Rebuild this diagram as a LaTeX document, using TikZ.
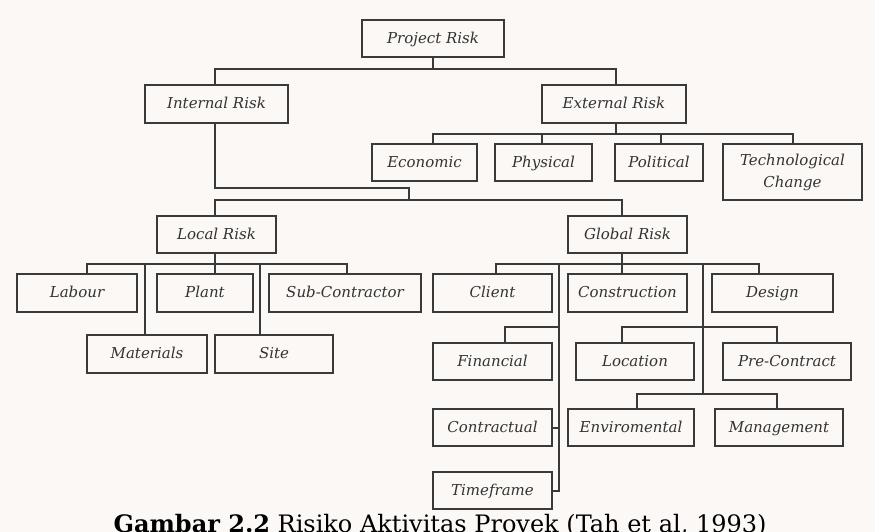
\documentclass[tikz,border=0pt]{standalone}
\usepackage{fontspec}
\setmainfont{DejaVu Serif}
\definecolor{paper}{HTML}{FBF8F5}
\definecolor{ink}{HTML}{3A3A3A}
\definecolor{txt}{HTML}{333333}
\tikzset{
  riskbox/.style={draw=ink, line width=1.3pt, fill=paper, text=txt, inner sep=2pt,
    font=\fontsize{15}{22}\selectfont\itshape, align=center,
    text height=12.5pt, text depth=3pt},
  twoline/.style={text height=, text depth=},
  conn/.style={draw=ink, line width=1.3pt, line cap=rect},
}
\newcommand{\rbox}[6]{% name, cx, cy, width, height, text
  \node[riskbox, minimum width=#4pt, minimum height=#5pt] (#1) at (#2,#3) {#6};}
\begin{document}
\begin{tikzpicture}[x=1pt,y=-1pt]
\useasboundingbox (0,0) rectangle (875,532);
\clip (0,0) rectangle (875,532);
\fill[paper] (0,0) rectangle (875,532);

% top levels
\rbox{pr}{433}{38.5}{142}{37}{Project Risk}
\rbox{ir}{216.5}{104}{143}{38}{Internal Risk}
\rbox{er}{614}{104}{144}{38}{External Risk}

% external risk children
\rbox{eco}{424.5}{162.5}{105}{37}{Economic}
\rbox{phy}{543.5}{162.5}{97}{37}{Physical}
\rbox{pol}{659}{162.5}{88}{37}{Political}
\node[riskbox, twoline, minimum width=139pt, minimum height=56pt] (tech) at (792.5,172)
  {Technological\\Change};

% internal risk children
\rbox{lr}{216.5}{234.5}{119}{37}{Local Risk}
\rbox{gr}{627.5}{234.5}{119}{37}{Global Risk}

% local risk children
\rbox{lab}{77}{293}{120}{38}{Labour}
\rbox{pla}{205}{293}{96}{38}{Plant}
\rbox{sub}{345}{293}{152}{38}{Sub-Contractor}
\rbox{mat}{147}{354}{120}{38}{Materials}
\rbox{sit}{274}{354}{118}{38}{Site}

% global risk children
\rbox{cli}{492.5}{293}{119}{38}{Client}
\rbox{con}{627.5}{293}{119}{38}{Construction}
\rbox{des}{772.5}{293}{121}{38}{Design}
\rbox{fin}{492.5}{361.5}{119}{37}{Financial}
\rbox{ctr}{492.5}{427.5}{119}{37}{Contractual}
\rbox{tim}{492.5}{490.5}{119}{37}{Timeframe}
\rbox{loc}{635}{361.5}{118}{37}{Location}
\rbox{pre}{787}{361.5}{128}{37}{Pre-Contract}
\rbox{env}{631}{427.5}{126}{37}{Enviromental}
\rbox{man}{779}{427.5}{128}{37}{Management}

% bus levels and drop columns
\coordinate (jpr) at (433,69);
\coordinate (jer) at (616,134);
\coordinate (jir) at (215,188);
\coordinate (jmid) at (409,200);
\coordinate (jlr) at (215,264);
\coordinate (jgr) at (622,264);
\coordinate (spA) at (559,264);
\coordinate (spB) at (703,264);
\coordinate (jfin) at (559,327);
\coordinate (jloc) at (703,327);
\coordinate (jenv) at (703,394);
\coordinate (jctr) at (559,428);
\coordinate (spAend) at (559,491);
\coordinate (xeco) at (433,0);
\coordinate (xphy) at (542,0);
\coordinate (xpol) at (661,0);
\coordinate (xtech) at (793,0);
\coordinate (xlab) at (87,0);
\coordinate (xmat) at (145,0);
\coordinate (xsit) at (260,0);
\coordinate (xsub) at (347,0);
\coordinate (xcli) at (496,0);
\coordinate (xfin) at (505,0);
\coordinate (xdes) at (759,0);
\coordinate (xpre) at (777,0);
\coordinate (xenv) at (637,0);

% project risk
\draw[conn] (pr.south) -- (jpr);
\draw[conn] (ir.north -| jir) |- (jpr) -| (er.north -| jer);

% external risk
\draw[conn] (er.south -| jer) -- (jer);
\draw[conn] (eco.north -| xeco) |- (jer) -| (tech.north -| xtech);
\draw[conn] (phy.north -| xphy) -- (xphy |- jer);
\draw[conn] (pol.north -| xpol) -- (xpol |- jer);

% internal risk down to local and global risk
\draw[conn] (ir.south -| jir) -- (jir) -| (jmid);
\draw[conn] (lr.north -| jlr) |- (jmid) -| (gr.north -| jgr);

% local risk
\draw[conn] (lr.south -| jlr) -- (jlr);
\draw[conn] (lab.north -| xlab) |- (jlr) -| (sub.north -| xsub);
\draw[conn] (pla.north -| jlr) -- (jlr);
\draw[conn] (mat.north -| xmat) -- (xmat |- jlr);
\draw[conn] (sit.north -| xsit) -- (xsit |- jlr);

% global risk
\draw[conn] (gr.south -| jgr) -- (jgr);
\draw[conn] (cli.north -| xcli) |- (jgr) -| (des.north -| xdes);
\draw[conn] (con.north -| jgr) -- (jgr);
\draw[conn] (spA) -- (spAend);
\draw[conn] (spB) -- (jenv);
\draw[conn] (fin.north -| xfin) |- (jfin);
\draw[conn] (ctr.east |- jctr) -- (jctr);
\draw[conn] (tim.east |- spAend) -- (spAend);
\draw[conn] (loc.north -| jgr) |- (jloc) -| (pre.north -| xpre);
\draw[conn] (env.north -| xenv) |- (jenv) -| (man.north -| xpre);

% caption
\node[anchor=base, text=black, font=\fontsize{24}{28}\selectfont, inner sep=0pt] (cap) at (440,532)
  {\textbf{Gambar 2.2} Risiko Aktivitas Proyek (Tah et al, 1993)};
\end{tikzpicture}
\end{document}
